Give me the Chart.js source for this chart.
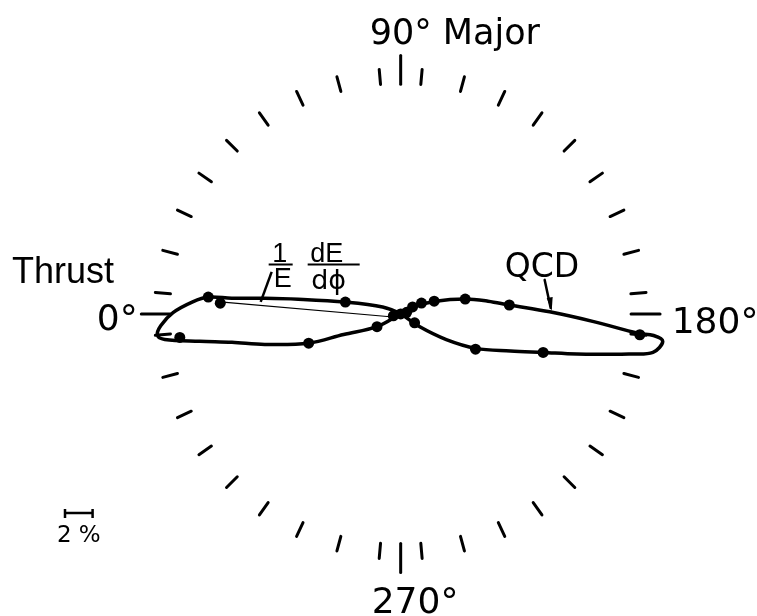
<!DOCTYPE html>
<html>
<head>
<meta charset="utf-8">
<script src="https://cdn.jsdelivr.net/npm/chart.js@4.4.0/dist/chart.umd.min.js"></script>
<style>
  html, body { margin: 0; padding: 0; background: #fff; }
  canvas { display: block; }
</style>
</head>
<body>
<canvas id="flow" width="757" height="616"></canvas>
<script>
// angle in degrees (0 = thrust axis, 90 = major axis), value = 1/E dE/dphi in %
const rightLobeAngles = [150, 160, 167, 171.7, 175.3, 179.2, 182.3, 184.7, 184.9, 186.0, 188.7, 190.0, 191.0, 192.9, 195.2, 198.7, 204.7, 209.5, 214.4];
const rightLobeValues = [1.0, 2.7, 4.8, 6.4, 7.9, 10.8, 14.0, 17.3, 18.4, 19.1, 18.5, 16.8, 15.4, 13.1, 10.7, 8.4, 6.0, 3.8, 1.6];
const leftLobeAngles = [21, 12.1, 8.2, 6.6, 5.3, 5.0, 3.3, 0.3, 357.2, 355.0, 353.8, 352.2, 350.4, 347.3, 342.3, 340.1, 331.6];
const leftLobeValues = [1.4, 4.1, 7.5, 9.9, 12.3, 14.0, 15.1, 16.5, 17.4, 17.7, 17.2, 14.7, 12.4, 10.1, 7.0, 4.4, 1.95];

const dataAngles = [149.7, 152.4, 159.1, 167.0, 175.3, 185.0, 195.2, 205.3, 212.7, 5.0, 3.4, 12.1, 353.9, 342.3, 331.6, 345, 0, 165];
const dataValues = [1.0, 1.7, 2.6, 4.8, 7.9, 17.4, 10.7, 6.0, 1.2, 14.0, 13.1, 4.1, 16.1, 7.0, 1.95, 0.55, 0, 0.45];

const thinLineAngles = [3.8, 345];
const thinLineValues = [12.9, 0.8];

const axisLabels = ['0°', '90°', '180°', '270°'];
const axisNames = ['Thrust', 'Major'];
const curveLabel = 'QCD';
const scaleBarPercent = 2;

const PX_PER_UNIT = 14;
const W = 757, H = 616, CX = 401, CY = 314;

function toXY(angle, value) {
  const a = angle * Math.PI / 180;
  return { x: -value * Math.cos(a), y: value * Math.sin(a) };
}

function polar(angles, values) {
  return angles.map((a, i) => toXY(a, values[i]));
}

const origin = { x: 0, y: 0 };
const curve = [origin, ...polar(rightLobeAngles, rightLobeValues), origin,
  ...polar(leftLobeAngles, leftLobeValues), origin];

const decor = {
  id: 'decor',
  afterDraw(chart) {
    const { ctx, scales: { x, y } } = chart;
    const pt = (a, r) => {
      const p = toXY(a, r);
      return [x.getPixelForValue(p.x), y.getPixelForValue(p.y)];
    };
    const cx = x.getPixelForValue(0), cy = y.getPixelForValue(0);
    ctx.save();
    ctx.strokeStyle = '#000';
    ctx.fillStyle = '#000';
    ctx.lineCap = 'round';

    // ring of ticks
    ctx.lineWidth = 3;
    for (let a = 5; a < 360; a += 10) {
      const [x1, y1] = pt(a, 16.75), [x2, y2] = pt(a, 17.85);
      ctx.beginPath(); ctx.moveTo(x1, y1); ctx.lineTo(x2, y2); ctx.stroke();
    }
    [0, 90, 180, 270].forEach(a => {
      const [x1, y1] = pt(a, 16.7), [x2, y2] = pt(a, 18.8);
      ctx.beginPath(); ctx.moveTo(x1, y1); ctx.lineTo(x2, y2); ctx.stroke();
    });

    // axis labels
    ctx.textBaseline = 'alphabetic';
    ctx.font = '36px "DejaVu Sans"';
    ctx.textAlign = 'right';
    ctx.fillText(axisLabels[0], cx - 263, cy + 16);
    ctx.textAlign = 'left';
    ctx.fillText(axisLabels[2], cx + 271, cy + 19);
    ctx.fillText(axisLabels[3], cx - 29, cy + 299);
    ctx.font = '35px "DejaVu Sans"';
    ctx.fillText(axisLabels[1] + ' ' + axisNames[1], cx - 31, cy - 270);
    ctx.font = '36px "Liberation Sans"';
    ctx.fillText(axisNames[0], 12, cy - 31);
    ctx.font = '33px "DejaVu Sans"';
    ctx.fillText(curveLabel, cx + 104, cy - 37);

    // QCD leader with arrow head
    ctx.lineWidth = 2.5;
    ctx.beginPath(); ctx.moveTo(cx + 144, cy - 34); ctx.lineTo(cx + 150, cy - 6); ctx.stroke();
    ctx.beginPath();
    ctx.moveTo(cx + 146, cy - 16); ctx.lineTo(cx + 152, cy - 17); ctx.lineTo(cx + 151, cy - 3);
    ctx.closePath(); ctx.fill();

    // 1/E dE/dphi label
    ctx.font = '27px "Liberation Sans"';
    ctx.textAlign = 'center';
    ctx.fillText('1', cx - 121, cy - 52);
    ctx.fillText('E', cx - 118, cy - 27);
    ctx.fillText('dE', cx - 74, cy - 52);
    ctx.font = '27px "DejaVu Sans"';
    ctx.fillText('dϕ', cx - 72, cy - 25);
    ctx.lineWidth = 2;
    ctx.lineCap = 'butt';
    ctx.beginPath();
    ctx.moveTo(cx - 132, cy - 49.5); ctx.lineTo(cx - 108, cy - 49.5);
    ctx.moveTo(cx - 93, cy - 49.5); ctx.lineTo(cx - 41, cy - 49.5);
    ctx.stroke();
    ctx.lineWidth = 2.5;
    ctx.beginPath(); ctx.moveTo(cx - 129, cy - 42); ctx.lineTo(cx - 140, cy - 12); ctx.stroke();

    // 2 % scale bar
    const x0 = 65, x1 = x.getPixelForValue(x.getValueForPixel(x0) + scaleBarPercent);
    ctx.lineWidth = 2.5;
    ctx.beginPath();
    ctx.moveTo(x0, 513); ctx.lineTo(x1, 513);
    ctx.moveTo(x0, 509); ctx.lineTo(x0, 518);
    ctx.moveTo(x1, 509); ctx.lineTo(x1, 518);
    ctx.stroke();
    ctx.font = '23px "DejaVu Sans"';
    ctx.textAlign = 'center';
    ctx.fillText(scaleBarPercent + ' %', (x0 + x1) / 2, 542);
    ctx.restore();
  }
};

new Chart(document.getElementById('flow'), {
  type: 'scatter',
  data: {
    datasets: [
      {
        label: 'QCD',
        data: curve,
        showLine: true,
        tension: 0.35,
        borderColor: '#000',
        borderWidth: 3.5,
        pointRadius: 0,
        fill: false,
      },
      {
        label: 'axis',
        data: polar(thinLineAngles, thinLineValues),
        showLine: true,
        borderColor: '#000',
        borderWidth: 1.2,
        pointRadius: 0,
      },
      {
        label: 'data',
        data: polar(dataAngles, dataValues),
        pointRadius: 5.5,
        pointBackgroundColor: '#000',
        pointBorderColor: '#000',
        pointBorderWidth: 0,
      },
    ],
  },
  options: {
    responsive: false,
    animation: false,
    layout: { padding: 0 },
    plugins: { legend: { display: false }, tooltip: { enabled: false } },
    scales: {
      x: { type: 'linear', display: false, min: -CX / PX_PER_UNIT, max: (W - CX) / PX_PER_UNIT },
      y: { type: 'linear', display: false, min: -(H - CY) / PX_PER_UNIT, max: CY / PX_PER_UNIT },
    },
  },
  plugins: [decor],
});
</script>
</body>
</html>
